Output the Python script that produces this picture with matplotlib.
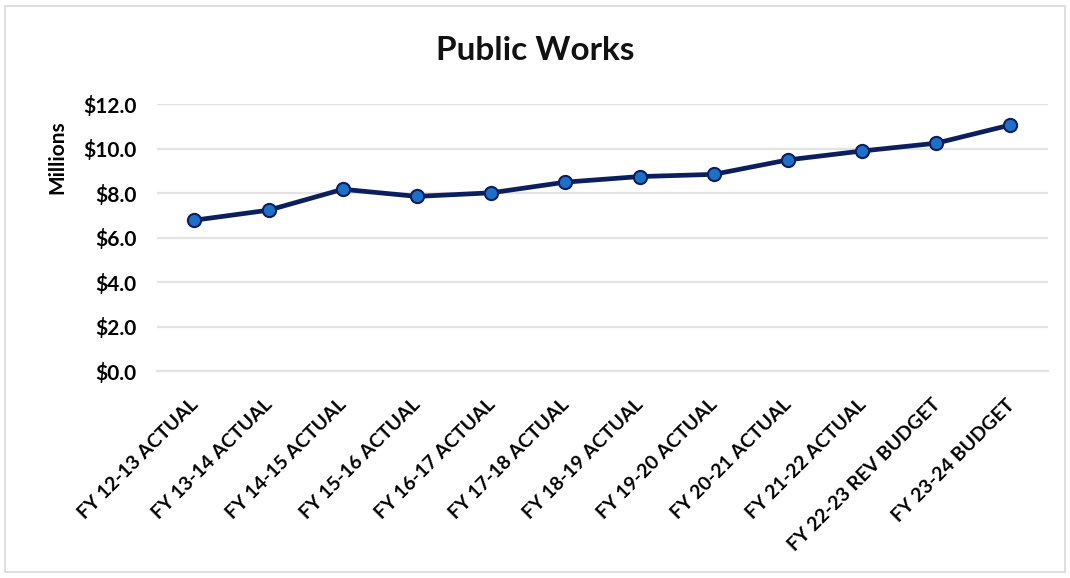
import matplotlib
matplotlib.use("Agg")
import matplotlib.pyplot as plt
from matplotlib.patches import Rectangle
from matplotlib.ticker import FuncFormatter, MultipleLocator
from matplotlib.transforms import ScaledTranslation

# Public Works expenditures, in millions of dollars
categories = [
    "FY 12-13 ACTUAL", "FY 13-14 ACTUAL", "FY 14-15 ACTUAL", "FY 15-16 ACTUAL",
    "FY 16-17 ACTUAL", "FY 17-18 ACTUAL", "FY 18-19 ACTUAL", "FY 19-20 ACTUAL",
    "FY 20-21 ACTUAL", "FY 21-22 ACTUAL", "FY 22-23 REV BUDGET", "FY 23-24 BUDGET",
]
values = [6.78, 7.23, 8.17, 7.85, 8.01, 8.49, 8.74, 8.84, 9.49, 9.89, 10.24, 11.06]

title = "Public Works"
y_label = "Millions"

plt.rcParams["font.family"] = ["Lato", "DejaVu Sans"]

fig = plt.figure(figsize=(10.70, 5.78), dpi=100)
fig.patch.set_facecolor("white")
ax = fig.add_axes([0.147, 0.358, 0.832, 0.462])

x = list(range(len(categories)))
ax.plot(x, values, color="#0B1F5E", linewidth=3.4, marker="o",
        markersize=9.5, markerfacecolor="#1E6FC8", markeredgecolor="#0B1F5E",
        markeredgewidth=1.5, zorder=3, solid_capstyle="round")

ax.set_xlim(-0.5, len(categories) - 0.5)
ax.set_ylim(0, 12)
ax.yaxis.set_major_locator(MultipleLocator(2))
ax.yaxis.set_major_formatter(FuncFormatter(lambda v, _: f"${v:.1f}"))
ax.grid(axis="y", color="#E3E3E3", linewidth=1.6, zorder=0)
ax.set_axisbelow(True)
for side in ("top", "right", "left"):
    ax.spines[side].set_visible(False)
ax.spines["bottom"].set_color("#E3E3E3")
ax.spines["bottom"].set_linewidth(1.6)
ax.tick_params(axis="both", length=0)
ax.tick_params(axis="y", pad=15, labelsize=15)

ax.set_xticks(x)
ax.set_xticklabels(categories, rotation=45, ha="right", va="top",
                   rotation_mode="anchor", fontsize=14, fontweight="bold")
ax.tick_params(axis="x", pad=18)
shift = ScaledTranslation(-0.05, 0, fig.dpi_scale_trans)
for lbl in ax.get_xticklabels():
    lbl.set_transform(lbl.get_transform() + shift)
for lbl in ax.get_yticklabels():
    lbl.set_fontweight("bold")

ax.set_ylabel(y_label, fontsize=15, fontweight="bold")
ax.yaxis.set_label_coords(-0.101, 0.80)

fig.text(0.5, 0.913, title, ha="center", va="center",
         fontsize=24, fontweight="bold", color="#111111")

# light frame around the whole chart
fig.add_artist(Rectangle((0.005, 0.01), 0.99, 0.98, transform=fig.transFigure,
                         fill=False, edgecolor="#D9D9D9", linewidth=1.2))

fig.savefig("out.png", dpi=100, facecolor="white")
